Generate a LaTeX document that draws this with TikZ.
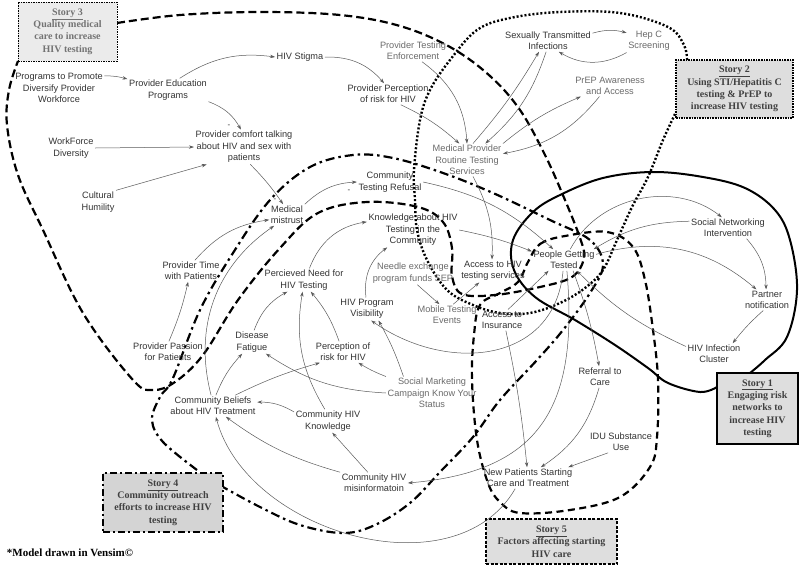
\documentclass[tikz,border=0pt]{standalone}
\usepackage{fontspec}
\setmainfont{Liberation Serif}
\setsansfont{Liberation Sans}
\usetikzlibrary{arrows.meta}
\definecolor{vartext}{HTML}{333333}
\definecolor{vartextl}{HTML}{6B6B6B}
\definecolor{linkgray}{HTML}{5A5A5A}
\definecolor{boxgray}{HTML}{DEDEDE}
\tikzset{
  var/.style={font=\sffamily\fontsize{9.2}{11.4}\selectfont,align=center,text=vartext,inner sep=1.5pt},
  varl/.style={var,text=vartextl},
  link/.style={->,draw=linkgray,line width=0.5pt},
  pol/.style={font=\sffamily\fontsize{8}{8}\selectfont,text=vartext,inner sep=0pt},
  story/.style={fill=boxgray,align=center,text=black!75,font=\bfseries\fontsize{10}{12.3}\selectfont,inner sep=0pt},
  loopi/.style={line width=2pt},
  loopii/.style={line width=2.4pt,dash pattern=on 2pt off 2pt},
  loopiii/.style={line width=2.2pt,dash pattern=on 8pt off 4pt},
  loopiv/.style={line width=2.2pt,dash pattern=on 9pt off 4pt on 2.5pt off 4pt},
  loopv/.style={line width=2.2pt,dash pattern=on 7pt off 4.5pt}
}
\begin{document}
\begin{tikzpicture}[x=1pt,y=-1pt,>={Stealth[length=5pt,width=3.4pt]}]
\useasboundingbox[fill=white] (0,0) rectangle (800,568);
\draw[loopiii] plot[smooth,tension=0.6] coordinates {(117,23) (180,15) (260,12) (340,15) (400,26) (450,47) (490,76) (520,110) (545,155) (565,200) (580,238) (584,258) (572,277) (540,287) (495,295) (462,294) (452,276) (452,248) (443,222) (418,207) (367,202) (318,213) (280,248) (238,300) (203,355) (175,382) (153,390) (133,380) (83,313) (43,230) (18,175) (7,125) (9,90) (18,61)};
\draw[loopii] plot[smooth,tension=0.6] coordinates {(687,60) (684,45) (668,27) (620,13) (560,12) (510,18) (477,30) (450,60) (430,90) (420,120) (414,170) (415,200) (417,230) (427,260) (447,290) (473,305) (500,313) (530,313) (560,303) (585,288) (603,270) (617,240) (632,207) (648,177) (663,140) (676,112)};
\draw[loopi] plot[smooth,tension=0.6] coordinates {(750,373) (765,360) (787,337) (797,290) (790,240) (775,210) (745,188) (703,177) (653,172) (603,178) (560,195) (533,212) (513,240) (514,270) (535,297) (575,320) (615,345) (648,368) (668,383) (700,392) (717,387)};
\draw[loopiv] plot[smooth,tension=0.6] coordinates {(197,470) (163,442) (152,420) (160,397) (173,378) (200,310) (233,253) (270,200) (310,167) (353,155) (393,158) (443,173) (493,193) (550,220) (590,240) (603,265) (590,293) (563,330) (537,360) (500,400) (473,437) (440,472) (410,503) (375,525) (343,533) (300,525) (260,507) (223,487)};
\draw[loopv] plot[smooth cycle,tension=0.6] coordinates {(528,262) (540,244) (565,236) (607,232) (633,247) (645,280) (653,330) (658,380) (657,437) (650,467) (620,497) (570,510) (520,513) (500,502) (488,483) (477,440) (472,380) (474,335) (480,305) (500,293) (518,282)};
\node[story,draw,line width=1.3pt,minimum width=81,minimum height=71] (story1) at (757.5,408.5) {\underline{Story 1}\\Engaging risk\\networks to\\increase HIV\\testing};
\node[story,draw,line width=1.3pt,dash pattern=on 1.6pt off 1pt,minimum width=117,minimum height=58] (story2) at (734.5,89) {\underline{Story 2}\\Using STI/Hepatitis C\\testing \& PrEP to\\increase HIV testing};
\node[story,draw,line width=1pt,dash pattern=on 1.5pt off 1pt,fill=black!8,text=black!55,minimum width=99,minimum height=59] (story3) at (67.5,31.5) {\underline{Story 3}\\Quality medical\\care to increase\\HIV testing};
\node[story,draw,line width=2pt,dash pattern=on 7pt off 3pt on 2pt off 3pt,fill=black!17,minimum width=120,minimum height=59] (story4) at (163,502.5) {\underline{Story 4}\\Community outreach\\efforts to increase HIV\\testing};
\node[story,draw,line width=1.2pt,dash pattern=on 3pt off 1.5pt,minimum width=131,minimum height=45] (story5) at (551.5,541.5) {\underline{Story 5}\\Factors affecting starting\\HIV care};
\node[font=\bfseries\fontsize{11}{13}\selectfont,inner sep=0pt] (credit) at (70,553) {*Model drawn in Vensim©};
\node[var] (prog) at (59,88) {Programs to Promote\\Diversify Provider\\Workforce};
\node[var] (edu) at (168,90) {Provider Education\\Programs};
\node[var] (stigma) at (300,57) {HIV Stigma};
\node[varl] (enforce) at (413,51) {Provider Testing\\Enforcement};
\node[var] (perc) at (388,94) {Provider Perception\\of risk for HIV};
\node[var] (sti) at (548,41) {Sexually Transmitted\\Infections};
\node[varl] (hepc) at (649,41) {Hep C\\Screening};
\node[varl] (prep) at (610,86) {PrEP Awareness\\and Access};
\node[var] (comfort) at (244,147) {Provider comfort talking\\about HIV and sex with\\patients};
\node[var] (wfd) at (71,148) {WorkForce\\Diversity};
\node[var] (cult) at (98,202) {Cultural\\Humility};
\node[varl] (medprov) at (467,160) {Medical Provider\\Routine Testing\\Services};
\node[var] (refusal) at (390,182) {Community\\Testing Refusal};
\node[var] (mistrust) at (287,215) {Medical\\mistrust};
\node[var] (know) at (413,230) {Knowledge about HIV\\Testing in the\\Community};
\node[varl] (needle) at (413,273) {Needle exchange\\program funds SEP};
\node[var] (access) at (493,271) {Access to HIV\\testing services};
\node[var] (people) at (564,260) {People Getting\\Tested};
\node[var] (sni) at (728,228) {Social Networking\\Intervention};
\node[var] (partner) at (767,300) {Partner\\notification};
\node[var] (cluster) at (714,354) {HIV Infection\\Cluster};
\node[var] (need) at (304,280) {Percieved Need for\\HIV Testing};
\node[var] (ptime) at (191,271) {Provider Time\\with Patients};
\node[var] (visib) at (367,309) {HIV Program\\Visibility};
\node[varl] (mobile) at (447,315) {Mobile Testing\\Events};
\node[var] (insur) at (502,320) {Access to\\Insurance};
\node[var] (fatigue) at (252,342) {Disease\\Fatigue};
\node[var] (risk) at (343,352) {Perception of\\risk for HIV};
\node[var] (passion) at (168,352) {Provider Passion\\for Patients};
\node[varl] (social) at (432,393) {Social Marketing\\Campaign Know Your\\Status};
\node[var] (beliefs) at (213,406) {Community Beliefs\\about HIV Treatment};
\node[var] (cknow) at (328,421) {Community HIV\\Knowledge};
\node[var] (referral) at (600,377) {Referral to\\Care};
\node[var] (idu) at (621,442) {IDU Substance\\Use};
\node[var] (misinfo) at (374,483) {Community HIV\\misinformatoin};
\node[var] (newpat) at (528,478) {New Patients Starting\\Care and Treatment};
\node[pol] (polcomfort) at (229,126) {-};
\node[pol] (polmistrust) at (275,200) {-};
\node[pol] (polrefusal) at (349,191) {-};
\draw[link] (prog.15) to[bend left=8] (edu.165);
\draw[link] (edu.45) to[bend left=20] (stigma.west);
\draw[link] (edu.south east) to[bend left=20] (comfort.100);
\draw[link] (stigma.east) to[bend left=25] (perc.110);
\draw[link] (perc.-40) to[bend left=8] (medprov.115);
\draw[link] (enforce.-50) to[bend left=25] (medprov.north);
\draw[link] (medprov.70) to[bend right=5] (sti.-130);
\draw[link] (sti.-100) to[bend left=15] (medprov.42);
\draw[link] (sti.10) to[bend left=15] (hepc.160);
\draw[link] (hepc.south west) to[bend left=30] (sti.-45);
\draw[link] (medprov.north east) to[bend left=8] (prep.200);
\draw[link] (prep.-135) to[bend left=20] (medprov.10);
\draw[link] (medprov.-70) to[bend left=15] (access.95);
\draw[link] (refusal.east) to[bend left=15] (people.135);
\draw[link] (know.east) to[bend left=5] (people.165);
\draw[link] (mistrust.north east) to[bend left=20] (refusal.west);
\draw[link] (comfort.-70) to[bend left=5] (mistrust.110);
\draw[link] (wfd.east) -- (comfort.west);
\draw[link] (cult.north east) -- (comfort.205);
\draw[link] (ptime.70) to[bend left=20] (mistrust.195);
\draw[link] (beliefs.100) to[bend left=35] (mistrust.-140);
\draw[link] (passion.85) to[bend right=5] (ptime.-105);
\draw[link] (fatigue.80) to[bend left=20] (need.-145);
\draw[link] (risk.110) to[bend right=10] (need.-60);
\draw[link] (cknow.105) to[bend left=20] (need.-97);
\draw[link] (beliefs.75) to[bend left=10] (fatigue.-130);
\draw[link] (beliefs.26) to[bend left=5] (risk.-155);
\draw[link] (cknow.165) to[bend right=15] (beliefs.5);
\draw[link] (social.north west) to[bend left=5] (risk.-35);
\draw[link] (social.west) to[bend left=15] (fatigue.-40);
\draw[link] (social.150) to[bend right=5] (visib.-45);
\draw[link] (people.-95) to[out=-95,in=-35,looseness=1.2] (visib.-70);
\draw[link] (visib.95) to[bend left=30] (know.-146);
\draw[link] (need.65) to[bend left=30] (know.170);
\draw[link] (needle.-70) -- (mobile.125);
\draw[link] (mobile.60) -- (access.-140);
\draw[link] (insur.60) -- (people.-145);
\draw[link] (people.60) to[bend left=50] (sni.120);
\draw[link] (sni.170) to[bend right=15] (people.20);
\draw[link] (people.10) to[bend left=28] (partner.135);
\draw[link] (sni.-30) to[bend left=20] (partner.95);
\draw[link] (partner.-110) to[bend right=5] (cluster.30);
\draw[link] (cluster.165) to[bend left=10] (people.-40);
\draw[link] (people.-50) to[bend left=5] (referral.95);
\draw[link] (people.-75) to[out=-85,in=5,looseness=1.3] (misinfo.east);
\draw[link] (insur.-70) to[bend left=3] (newpat.95);
\draw[link] (referral.-95) to[bend left=20] (newpat.40);
\draw[link] (idu.-140) -- (newpat.15);
\draw[link] (newpat.-140) to[out=-120,in=-75] (beliefs.-75);
\draw[link] (misinfo.north west) to[bend left=10] (beliefs.-40);
\draw[link] (misinfo.120) -- (cknow.-70);
\end{tikzpicture}
\end{document}
